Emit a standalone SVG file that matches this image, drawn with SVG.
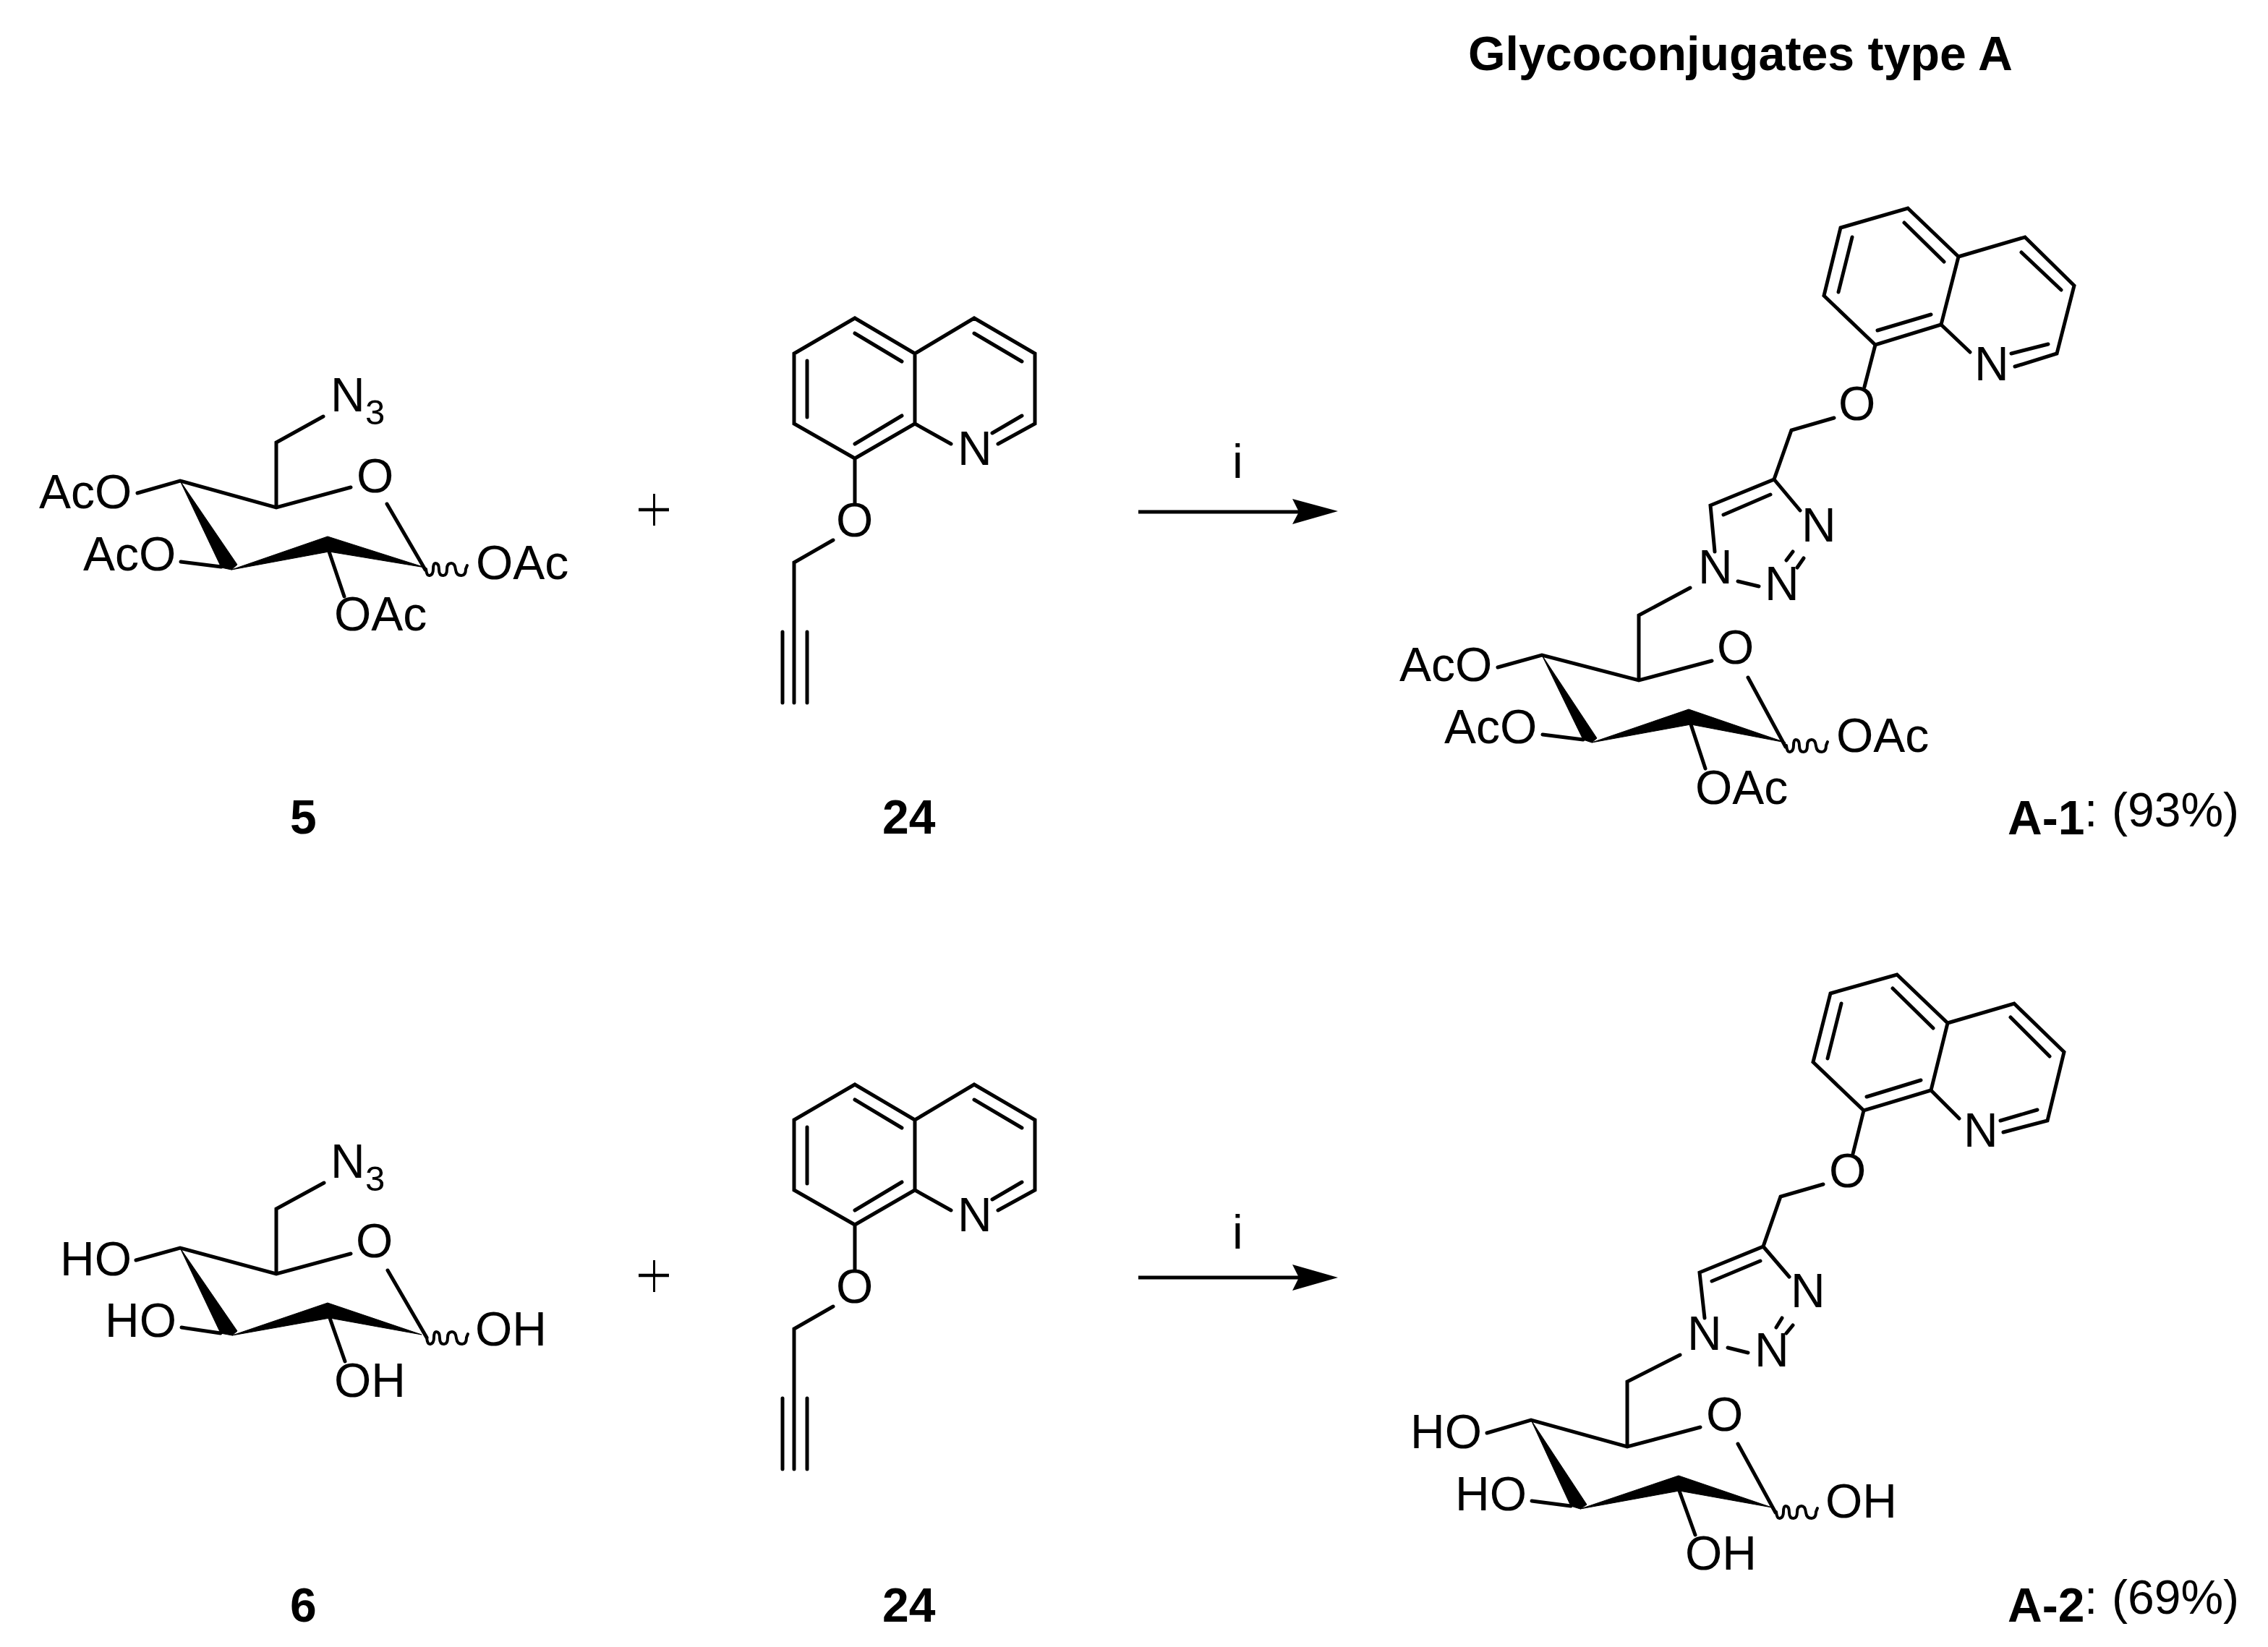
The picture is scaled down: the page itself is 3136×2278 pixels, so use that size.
<svg xmlns="http://www.w3.org/2000/svg" width="3136" height="2278" viewBox="0 0 3136 2278">
<style>
text{font-family:"Liberation Sans",Arial,sans-serif;font-size:66px;fill:#000}
.b{font-weight:bold}
.s{font-size:49px}
.bond{fill:none;stroke:#000;stroke-width:5;stroke-linecap:round;stroke-linejoin:miter}
.wave{fill:none;stroke:#000;stroke-width:4;stroke-linecap:round}
.wedge{fill:#000;stroke:#000;stroke-width:1}
</style>
<defs>
<path id="wavy" class="wave" d="M0 0Q1 10 5 9Q10 8 10 0Q10 -8 13 -8Q18 -8 18 1Q18 9 24 9Q29 9 29 0Q29 -8 35 -8Q40 -8 41 1Q42 9 49 9Q55 9 55 0L57 -5"/>
<g id="q24">
<path class="bond" d="M1098 489L1182 440L1265 489L1265 586L1182 634L1098 586ZM1182 461L1247 500M1116 499L1116 577M1182 614L1247 575M1265 489L1347 440L1431 489L1431 586L1380 614M1347 461L1413 500M1413 575L1372 599M1265 586L1315 614M1182 634L1182 696M1152 747L1098 778L1098 972M1082 874L1082 972M1116 874L1116 972"/>
<text x="1324" y="643">N</text>
<text x="1156" y="742">O</text>
</g>
</defs>
<text id="title" class="b" x="2030" y="97" style="font-size:66.3px">Glycoconjugates type A</text>
<g id="compound-5">
<path class="bond" d="M447 576L382 612L382 702M485 674L382 702L249 665L190 682M535 697L588 788M250 777L306 784M455 763L476 825"/>
<polygon class="wedge" points="249,665 328,781 320,788 306,785"/>
<polygon class="wedge" points="320,788 453,742 588,785 455,763"/>
<use href="#wavy" x="589" y="787"/>
<text x="457" y="569">N</text><text class="s" x="505" y="587">3</text>
<text x="493" y="681">O</text>
<text x="54" y="703">AcO</text>
<text x="115" y="789">AcO</text>
<text x="658" y="801">OAc</text>
<text x="462" y="872">OAc</text>
<text x="401" y="1153" class="b">5</text>
</g>
<g id="reagent-24-a"><use href="#q24"/><text x="1220" y="1153" class="b">24</text></g>
<g id="plus-a"><path d="M883 705H925" stroke="#000" stroke-width="4.5"/><path d="M904.5 683V727" stroke="#000" stroke-width="3"/></g>
<text id="cond-a" x="1704" y="661">i</text>
<g id="connectors">
<path d="M1574 708H1796" stroke="#000" stroke-width="5"/>
<polygon points="1787,690 1850,707 1787,725 1796,708"/>
<path d="M1574 1767H1796" stroke="#000" stroke-width="5"/>
<polygon points="1787,1749 1850,1767 1787,1785 1796,1767"/>
</g>
<g id="product-A-1">
<path class="bond" d="M2545 315L2638 288L2708 355L2684 449L2593 477L2522 409ZM2633 308L2688 362M2561 328L2542 404M2596 457L2670 435M2708 355L2800 328L2868 395L2844 489L2786 507M2795 349L2850 401M2832 476L2781 489M2684 449L2724 487M2593 477L2578 535M2536 578L2477 595L2453 663L2365 699L2371 763M2448 684L2383 712M2453 663L2489 706M2403 804L2432 811M2470 775L2479 763M2485 785L2494 772M2337 813L2266 851L2266 941M2367 914L2266 941L2132 906L2071 923M2417 937L2469 1033M2133 1016L2189 1023M2338 1002L2358 1063"/>
<polygon class="wedge" points="2132,906 2208,1021 2201,1027 2189,1023"/>
<polygon class="wedge" points="2201,1027 2335,981 2469,1027 2338,1002"/>
<use href="#wavy" x="2470" y="1031"/>
<text x="2730" y="526">N</text>
<text x="2542" y="581">O</text>
<text x="2491" y="749">N</text>
<text x="2348" y="807">N</text>
<text x="2440" y="830">N</text>
<text x="2374" y="918">O</text>
<text x="1935" y="942">AcO</text>
<text x="1997" y="1028">AcO</text>
<text x="2539" y="1040">OAc</text>
<text x="2344" y="1112">OAc</text>
<text x="2776" y="1154" class="b">A-1</text>
<text x="2882" y="1143">:</text>
<text x="2920" y="1143">(93%)</text>
</g>
<g id="compound-6">
<path class="bond" d="M448 1636L382 1672L382 1762M485 1734L382 1762L249 1726L188 1743M536 1757L590 1850M251 1836L305 1844M456 1823L477 1883"/>
<polygon class="wedge" points="249,1726 328,1841 321,1847 305,1844"/>
<polygon class="wedge" points="321,1847 453,1802 583,1846 456,1823"/>
<use href="#wavy" x="590" y="1850"/>
<text x="457" y="1629">N</text><text class="s" x="505" y="1647">3</text>
<text x="492" y="1739">O</text>
<text x="83" y="1764">HO</text>
<text x="145" y="1849">HO</text>
<text x="657" y="1861">OH</text>
<text x="462" y="1932">OH</text>
<text x="401" y="2243" class="b">6</text>
</g>
<g id="reagent-24-b"><use href="#q24" y="1060"/><text x="1220" y="2243" class="b">24</text></g>
<g id="plus-b"><path d="M883 1764H925" stroke="#000" stroke-width="4.5"/><path d="M904.5 1743V1787" stroke="#000" stroke-width="3"/></g>
<text id="cond-b" x="1704" y="1727">i</text>
<g id="product-A-2">
<path class="bond" d="M2531 1374L2623 1348L2693 1415L2670 1508L2577 1536L2507 1469ZM2617 1367L2673 1422M2546 1388L2527 1464M2581 1517L2656 1494M2693 1415L2785 1388L2854 1455L2831 1550L2770 1566M2780 1407L2834 1461M2817 1535L2766 1550M2670 1508L2709 1547M2577 1536L2562 1596M2521 1638L2462 1655L2438 1724L2350 1760L2357 1823M2434 1744L2367 1772M2438 1724L2474 1766M2389 1864L2417 1871M2456 1836L2464 1823M2470 1844L2479 1833M2323 1874L2250 1911L2250 2001M2351 1974L2250 2001L2117 1964L2056 1982M2403 1997L2455 2092M2118 2076L2172 2083M2322 2062L2344 2123"/>
<polygon class="wedge" points="2117,1964 2194,2081 2185,2087 2172,2083"/>
<polygon class="wedge" points="2185,2087 2321,2041 2450,2085 2322,2062"/>
<use href="#wavy" x="2456" y="2091"/>
<text x="2715" y="1586">N</text>
<text x="2529" y="1642">O</text>
<text x="2476" y="1808">N</text>
<text x="2333" y="1867">N</text>
<text x="2426" y="1890">N</text>
<text x="2359" y="1979">O</text>
<text x="1950" y="2003">HO</text>
<text x="2012" y="2089">HO</text>
<text x="2524" y="2099">OH</text>
<text x="2330" y="2171">OH</text>
<text x="2776" y="2243" class="b">A-2</text>
<text x="2882" y="2232">:</text>
<text x="2920" y="2232">(69%)</text>
</g>
</svg>
